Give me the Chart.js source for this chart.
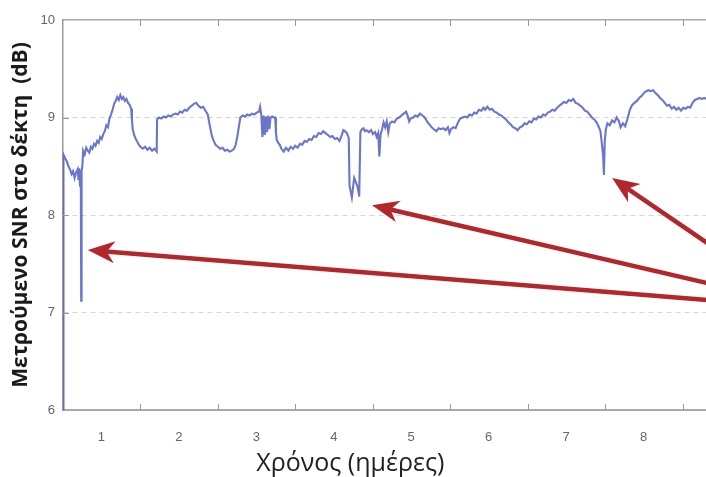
<!DOCTYPE html>
<html>
<head>
<meta charset="utf-8">
<script src="https://cdn.jsdelivr.net/npm/chart.js@4.4.1/dist/chart.umd.min.js"></script>
<style>
  html, body { margin:0; padding:0; overflow:hidden; background:#fff; width:706px; height:477px; }
  #wrap { position:relative; width:740px; height:477px; }
</style>
</head>
<body>
<div id="wrap"><canvas id="c"></canvas></div>
<script>
// ---- data (time in days, measured SNR in dB) ----
const days = [
0.000,0.006,0.03,0.05,0.07,0.09,0.11,0.13,0.15,0.17,0.19,0.20,0.21,0.22,0.23,0.235,0.24,0.25,0.26,0.28,
0.30,0.32,0.34,0.36,0.38,0.40,0.42,0.44,0.46,0.48,0.50,0.52,0.54,0.56,0.58,0.60,0.62,0.64,0.66,0.68,
0.70,0.72,0.74,0.76,0.78,0.80,0.82,0.84,0.86,0.88,0.89,0.90,0.92,0.94,0.96,0.98,1.00,1.03,1.06,1.09,
1.12,1.15,1.18,1.21,1.215,1.24,1.27,1.30,1.33,1.36,1.39,1.42,1.45,1.48,1.51,1.54,1.57,1.60,1.63,1.66,
1.69,1.72,1.75,1.78,1.81,1.84,1.87,1.89,1.92,1.94,1.97,2.00,2.03,2.06,2.09,2.12,2.15,2.18,2.21,2.23,
2.25,2.27,2.29,2.32,2.35,2.38,2.41,2.44,2.47,2.50,2.53,2.545,2.56,2.575,2.59,2.605,2.62,2.635,2.65,2.665,
2.68,2.70,2.72,2.74,2.75,2.76,2.78,2.80,2.82,2.85,2.88,2.91,2.94,2.97,3.00,3.03,3.06,3.09,3.12,3.15,
3.18,3.21,3.24,3.27,3.30,3.33,3.36,3.39,3.42,3.45,3.48,3.51,3.54,3.57,3.60,3.62,3.64,3.665,3.69,3.70,
3.71,3.73,3.745,3.76,3.78,3.80,3.815,3.825,3.84,3.86,3.88,3.90,3.92,3.95,3.98,4.00,4.03,4.05,4.07,4.085,
4.10,4.12,4.14,4.16,4.18,4.20,4.22,4.25,4.28,4.31,4.34,4.37,4.40,4.43,4.45,4.47,4.49,4.52,4.55,4.58,
4.61,4.64,4.67,4.70,4.73,4.76,4.79,4.82,4.85,4.88,4.91,4.94,4.97,4.99,5.01,5.04,5.07,5.10,5.13,5.16,
5.19,5.22,5.25,5.28,5.31,5.34,5.37,5.40,5.43,5.45,5.48,5.51,5.54,5.57,5.60,5.63,5.66,5.69,5.72,5.75,
5.78,5.81,5.84,5.87,5.90,5.93,5.96,5.99,6.02,6.05,6.08,6.11,6.14,6.17,6.20,6.23,6.26,6.29,6.32,6.35,
6.38,6.41,6.44,6.47,6.50,6.53,6.56,6.59,6.62,6.65,6.68,6.71,6.74,6.77,6.80,6.83,6.86,6.89,6.92,6.94,
6.96,6.975,6.985,6.995,7.01,7.03,7.06,7.09,7.12,7.15,7.18,7.20,7.23,7.26,7.29,7.32,7.35,7.38,7.41,7.44,
7.47,7.50,7.53,7.56,7.59,7.62,7.65,7.68,7.71,7.74,7.77,7.80,7.83,7.86,7.89,7.92,7.95,7.98,8.01,8.04,
8.07,8.10,8.13,8.16,8.19,8.22,8.25,8.28,8.31,8.35
];
const snr = [
5.80,8.62,8.58,8.55,8.50,8.47,8.42,8.45,8.38,8.44,8.47,8.36,8.48,8.30,8.46,7.12,8.45,8.50,8.66,8.62,
8.69,8.66,8.64,8.70,8.68,8.73,8.71,8.76,8.74,8.80,8.78,8.83,8.86,8.92,8.90,8.99,9.03,9.08,9.14,9.17,
9.21,9.18,9.23,9.19,9.21,9.17,9.19,9.15,9.13,9.09,8.98,8.88,8.82,8.78,8.75,8.72,8.70,8.68,8.70,8.67,
8.69,8.66,8.68,8.65,8.98,9.00,8.99,9.01,9.00,9.02,9.01,9.03,9.04,9.03,9.06,9.05,9.08,9.07,9.10,9.12,
9.14,9.15,9.12,9.10,9.11,9.07,9.03,8.94,8.82,8.77,8.72,8.70,8.68,8.69,8.66,8.67,8.65,8.66,8.68,8.72,
8.80,8.90,9.00,9.02,9.01,9.03,9.02,9.04,9.03,9.05,9.06,9.11,9.03,8.80,9.02,8.82,9.01,8.85,9.02,8.88,
9.00,9.01,9.00,9.00,8.85,8.77,8.74,8.72,8.68,8.65,8.69,8.66,8.70,8.68,8.71,8.69,8.73,8.72,8.76,8.75,
8.78,8.77,8.81,8.80,8.84,8.83,8.86,8.84,8.82,8.80,8.81,8.78,8.79,8.76,8.82,8.87,8.86,8.84,8.79,8.30,
8.26,8.18,8.28,8.38,8.34,8.30,8.24,8.19,8.85,8.88,8.89,8.86,8.87,8.85,8.87,8.83,8.85,8.80,8.84,8.60,
8.82,8.88,8.95,8.90,8.96,8.85,8.94,8.96,8.95,8.99,9.00,9.02,9.04,9.06,9.02,8.96,8.99,9.00,9.02,9.01,
9.04,9.02,9.00,8.96,8.93,8.90,8.88,8.86,8.89,8.88,8.89,8.87,8.90,8.84,8.88,8.90,8.89,8.95,8.99,9.00,
9.01,9.00,9.03,9.02,9.05,9.04,9.08,9.07,9.10,9.08,9.11,9.08,9.09,9.06,9.05,9.03,9.02,9.00,8.98,8.95,
8.93,8.90,8.89,8.87,8.90,8.91,8.94,8.93,8.96,8.95,8.99,8.98,9.01,9.00,9.03,9.02,9.05,9.06,9.08,9.07,
9.10,9.12,9.14,9.16,9.15,9.18,9.17,9.19,9.15,9.14,9.12,9.10,9.07,9.06,9.03,9.00,8.98,8.95,8.90,8.86,
8.72,8.60,8.41,8.75,8.88,8.94,8.92,8.97,8.95,9.00,8.96,8.90,8.94,8.91,8.99,9.08,9.13,9.15,9.17,9.20,
9.22,9.25,9.27,9.28,9.27,9.28,9.25,9.23,9.20,9.18,9.15,9.12,9.13,9.09,9.11,9.08,9.10,9.07,9.10,9.09,
9.11,9.10,9.15,9.18,9.19,9.20,9.19,9.20,9.19,9.20
];
const yTicks = [6, 7, 8, 9, 10];
const xTickLabels = ['1','2','3','4','5','6','7','8'];
// annotation arrows: tip and tail in (day, dB)
const arrowTips  = [[0.32, 7.64], [3.99, 8.10], [7.09, 8.38]];
const arrowTails = [[8.60, 7.11], [8.60, 7.25], [8.60, 7.56]];
const yTitle = 'Μετρούμενο SNR στο δέκτη  (dB)';
const xTitle = 'Χρόνος (ημέρες)';

const points = days.map((d, i) => ({x: d, y: snr[i]}));

const innerTicks = {
  id: 'innerTicks',
  afterDatasetsDraw(chart) {
    const {ctx, chartArea: a, scales: {x, y}} = chart;
    ctx.save();
    ctx.strokeStyle = '#999';
    ctx.lineWidth = 1;
    ctx.beginPath();
    x.ticks.forEach(t => {
      if (Number.isInteger(t.value) && t.value > 0) {
        const px = Math.round(x.getPixelForValue(t.value)) + 0.5;
        ctx.moveTo(px, a.bottom); ctx.lineTo(px, a.bottom - 6);
        ctx.moveTo(px, a.top); ctx.lineTo(px, a.top + 6);
      }
    });
    y.ticks.forEach(t => {
      if (t.value > 6 && t.value < 10) {
        const py = Math.round(y.getPixelForValue(t.value)) + 0.5;
        ctx.moveTo(a.left, py); ctx.lineTo(a.left + 6, py);
      }
    });
    ctx.stroke();
    ctx.restore();
  }
};

const arrows = {
  id: 'arrows',
  afterDraw(chart) {
    const {ctx, scales: {x, y}} = chart;
    ctx.save();
    ctx.strokeStyle = '#b3262b';
    ctx.fillStyle = '#b3262b';
    ctx.lineWidth = 4.5;
    ctx.lineCap = 'round';
    arrowTips.forEach((tip, i) => {
      const tx = x.getPixelForValue(tip[0]), ty = y.getPixelForValue(tip[1]);
      const sx = x.getPixelForValue(arrowTails[i][0]), sy = y.getPixelForValue(arrowTails[i][1]);
      const ang = Math.atan2(ty - sy, tx - sx);
      const L = 27, W = 11;
      const bx = tx - Math.cos(ang) * (L - 6), by = ty - Math.sin(ang) * (L - 6);
      ctx.beginPath(); ctx.moveTo(sx, sy); ctx.lineTo(bx, by); ctx.stroke();
      ctx.beginPath();
      ctx.moveTo(tx, ty);
      ctx.lineTo(tx - Math.cos(ang) * L + Math.sin(ang) * W, ty - Math.sin(ang) * L - Math.cos(ang) * W);
      ctx.lineTo(tx - Math.cos(ang) * (L - 8), ty - Math.sin(ang) * (L - 8));
      ctx.lineTo(tx - Math.cos(ang) * L - Math.sin(ang) * W, ty - Math.sin(ang) * L + Math.cos(ang) * W);
      ctx.closePath();
      ctx.fill();
    });
    ctx.restore();
  }
};

const xTitlePlugin = {
  id: 'xTitlePlugin',
  afterDraw(chart) {
    const {ctx, scales: {x}} = chart;
    ctx.save();
    ctx.font = '25px "Open Sans", sans-serif';
    ctx.fillStyle = '#222';
    ctx.textAlign = 'center';
    ctx.textBaseline = 'middle';
    ctx.fillText(xTitle, x.getPixelForValue(3.71), 464);
    ctx.restore();
  }
};

const zeroPad = s => { s.paddingLeft = 0; s.paddingRight = 0; s.paddingTop = 0; s.paddingBottom = 0; };

new Chart(document.getElementById('c'), {
  type: 'line',
  data: {
    datasets: [{
      data: points,
      borderColor: 'rgba(72,88,192,0.82)',
      borderWidth: 2.1,
      pointRadius: 0,
      tension: 0,
      fill: false
    }]
  },
  options: {
    responsive: true,
    maintainAspectRatio: false,
    animation: false,
    events: [],
    layout: { padding: { left: 0, right: 11, top: 20, bottom: 0 } },
    plugins: { legend: { display: false }, tooltip: { enabled: false } },
    scales: {
      x: {
        type: 'linear', position: 'bottom', min: 0, max: 8.6,
        grid: { display: false, drawTicks: false },
        border: { display: true, color: '#aaa', width: 2 },
        ticks: {
          stepSize: 1, autoSkip: false, maxRotation: 0, padding: 20, labelOffset: -39,
          color: '#666', font: { family: '"Liberation Sans", Arial, sans-serif', size: 13 },
          callback: v => (Number.isInteger(v) && v >= 1 && v <= xTickLabels.length) ? xTickLabels[v - 1] : ''
        },
        afterFit: s => { s.height = 67; zeroPad(s); }
      },
      x2: {
        type: 'linear', position: 'top', min: 0, max: 8.6,
        grid: { display: false, drawTicks: false },
        border: { display: true, color: '#aaa', width: 1.5 },
        ticks: { display: false },
        afterFit: s => { s.height = 0; zeroPad(s); }
      },
      y: {
        type: 'linear', min: 6, max: 10,
        afterBuildTicks: s => { s.ticks = yTicks.map(v => ({value: v})); },
        grid: {
          drawTicks: false,
          color: c => (c.tick && c.tick.value > 6 && c.tick.value < 10) ? '#d6d6d6' : 'rgba(0,0,0,0)',
          lineWidth: 1
        },
        border: { display: true, color: '#999', width: 1.5, dash: [5, 4] },
        ticks: {
          padding: 8, color: '#666',
          font: { family: '"Liberation Sans", Arial, sans-serif', size: 13 },
          callback: v => String(v)
        },
        title: {
          display: true, text: yTitle, color: '#1a1a1a',
          font: { family: '"Open Sans", sans-serif', size: 21, weight: '700' },
          padding: { top: 8, bottom: 0 }
        },
        afterFit: s => { s.width = 63; zeroPad(s); }
      }
    }
  },
  plugins: [innerTicks, arrows, xTitlePlugin]
});
</script>
</body>
</html>
